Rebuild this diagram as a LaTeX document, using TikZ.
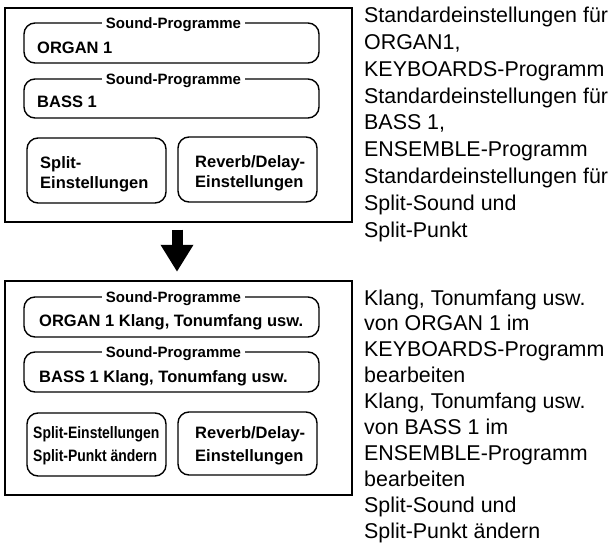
\documentclass[tikz,border=0pt]{standalone}
\usepackage{fontspec}
\setmainfont{Liberation Sans}
\usepackage{graphicx}
\usetikzlibrary{arrows.meta,calc}
\begin{document}
\begin{tikzpicture}[x=1pt,y=-1pt,
  outerbox/.style={draw, line width=1.4pt, inner sep=0pt},
  rbox/.style={draw, line width=1.4pt, rounded corners=11pt, inner sep=0pt},
  lbl/.style={fill=white, inner xsep=4pt, inner ysep=1pt, anchor=base, font=\fontsize{15}{18}\selectfont\bfseries},
  btxt/.style={anchor=base west, inner sep=0pt, font=\fontsize{16.5}{20}\selectfont\bfseries},
  rtxt/.style={anchor=base west, inner sep=0pt, font=\fontsize{21.4}{26}\selectfont},
  bigarrow/.style={line width=11pt, -{Triangle[width=31pt,length=27pt]}}]
\useasboundingbox (0,0) rectangle (609,545);

% ---------- top panel ----------
\node[outerbox, minimum width=347pt, minimum height=214pt] (top) at (178.5,115) {};
\node[rbox, minimum width=295pt, minimum height=40pt] (t1) at (171.5,43) {};
\node[rbox, minimum width=295pt, minimum height=39pt] (t2) at (171.5,98.5) {};
\node[rbox, minimum width=139pt, minimum height=65pt] (t3) at (96.5,170.5) {};
\node[rbox, minimum width=139pt, minimum height=65pt] (t4) at (247.5,169.5) {};
\node[lbl] (t1l) at (173.5,28.4) {Sound-Programme};
\node[lbl] (t2l) at (173.5,84.4) {Sound-Programme};
\node[btxt] (t1t) at (37,54) {ORGAN 1};
\node[btxt] (t2t) at (37,108) {BASS 1};
\node[btxt] (t3a) at (40,168.5) {Split-};
\node[btxt] (t3b) at (40,188.5) {Einstellungen};
\node[btxt] (t4a) at (195,167.5) {Reverb/Delay-};
\node[btxt] (t4b) at (195,187.5) {Einstellungen};

% ---------- bottom panel ----------
\node[outerbox, minimum width=347pt, minimum height=214pt] (bot) at (178.5,388) {};
\node[rbox, minimum width=295pt, minimum height=40pt] (b1) at (171.5,317) {};
\node[rbox, minimum width=295pt, minimum height=40pt] (b2) at (171.5,372) {};
\node[rbox, minimum width=139pt, minimum height=63pt] (b3) at (96.5,444.5) {};
\node[rbox, minimum width=139pt, minimum height=63pt] (b4) at (247.5,443.5) {};
\node[lbl] (b1l) at (173.5,302.4) {Sound-Programme};
\node[lbl] (b2l) at (173.5,357.4) {Sound-Programme};
\node[btxt] (b1t) at (39,326.5) {ORGAN 1 Klang, Tonumfang usw.};
\node[btxt] (b2t) at (39,382) {BASS 1 Klang, Tonumfang usw.};
\node[btxt] (b3a) at (33,438) {\scalebox{0.845}[1]{Split-Einstellungen}};
\node[btxt] (b3b) at (33,461) {\scalebox{0.845}[1]{Split-Punkt ändern}};
\node[btxt] (b4a) at (195,438) {Reverb/Delay-};
\node[btxt] (b4b) at (195,461) {Einstellungen};

% ---------- arrow ----------
\draw[bigarrow] ($(top.south)+(-1.5,7)$) -- ($(bot.north)+(-1.5,-8.5)$);

% ---------- right-hand texts ----------
\foreach \t [count=\i from 0] in {{Standardeinstellungen für},{ORGAN1,},{KEYBOARDS-Programm},{Standardeinstellungen für},{BASS 1,},{ENSEMBLE-Programm},{Standardeinstellungen für},{Split-Sound und},{Split-Punkt}}
  \node[rtxt] (ra\i) at (364,{23+26.75*\i}) {\t};
\foreach \t [count=\i from 0] in {{Klang, Tonumfang usw.},{von ORGAN 1 im},{KEYBOARDS-Programm},{bearbeiten},{Klang, Tonumfang usw.},{von BASS 1 im},{ENSEMBLE-Programm},{bearbeiten},{Split-Sound und},{Split-Punkt ändern}}
  \node[rtxt] (rb\i) at (364,{305+25.9*\i}) {\t};
\end{tikzpicture}
\end{document}
